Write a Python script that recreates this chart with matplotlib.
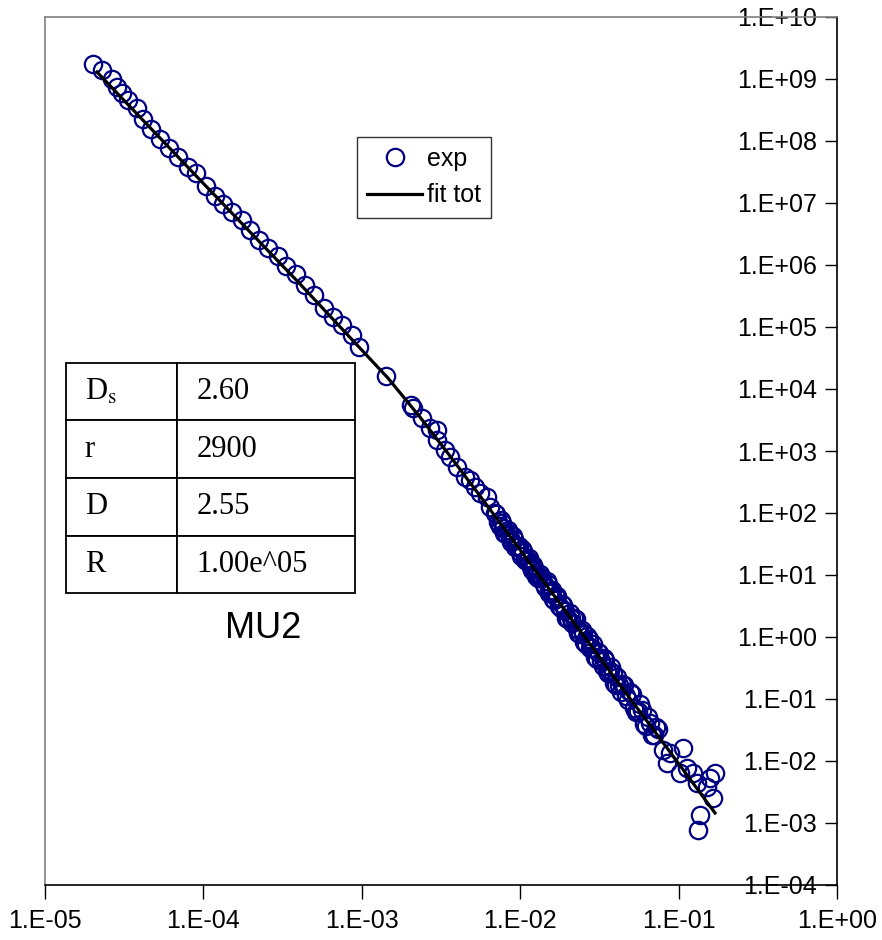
import matplotlib
matplotlib.use("Agg")
import matplotlib.pyplot as plt
import matplotlib.ticker as ticker
import numpy as np

# measured curve, log10(q) / log10(I), split by q range
lq_low = [-4.697, -4.640, -4.577, -4.545, -4.514, -4.476, -4.419, -4.381, -4.331, -4.274,
          -4.217, -4.160, -4.097, -4.047, -3.984, -3.927, -3.876, -3.819, -3.756, -3.706,
          -3.649, -3.592, -3.529, -3.479, -3.415, -3.359, -3.302, -3.239, -3.182, -3.125,
          -3.062, -3.018, -2.847]
li_low = [9.242, 9.145, 9.000, 8.871, 8.774, 8.661, 8.532, 8.355, 8.194, 8.032,
          7.887, 7.742, 7.581, 7.484, 7.274, 7.113, 6.984, 6.855, 6.726, 6.565,
          6.403, 6.274, 6.145, 5.984, 5.855, 5.677, 5.516, 5.306, 5.161, 5.032,
          4.871, 4.677, 4.210]

lq_mid = [-2.689, -2.677, -2.620, -2.569, -2.525, -2.525, -2.475, -2.443, -2.399, -2.348,
          -2.317, -2.285, -2.254, -2.210, -2.191]
li_mid = [3.742, 3.694, 3.532, 3.371, 3.339, 3.177, 3.016, 2.903, 2.742, 2.581,
          2.532, 2.419, 2.323, 2.258, 2.097]

lq_high = [-2.159, -2.140, -2.121, -2.109, -2.090, -2.071, -2.058, -2.039, -2.020, -2.001,
           -1.989, -1.970, -1.951, -1.932, -1.919, -1.900, -1.881, -1.862, -1.843, -1.824,
           -1.812, -1.793, -1.774, -1.755, -1.736, -1.717, -1.698, -1.679, -1.660, -1.641,
           -1.622, -1.604, -1.585, -1.566, -1.547, -1.528, -1.509, -1.490, -1.471, -1.452,
           -1.433, -1.414, -1.395, -1.376, -1.357, -1.332, -1.307, -1.282, -1.256, -1.231,
           -1.206, -1.181, -1.155, -1.130]
li_high = [1.997, 1.851, 1.882, 1.758, 1.661, 1.676, 1.535, 1.583, 1.469, 1.372,
           1.425, 1.247, 1.246, 1.132, 1.169, 0.991, 0.990, 0.957, 0.811, 0.859,
           0.735, 0.605, 0.652, 0.506, 0.538, 0.424, 0.294, 0.310, 0.309, 0.131,
           0.049, 0.065, -0.114, -0.034, -0.180, -0.326, -0.246, -0.392, -0.344, -0.555,
           -0.556, -0.573, -0.767, -0.768, -0.752, -0.952, -0.894, -1.143, -1.198, -1.172,
           -1.436, -1.394, -1.578, -1.488]

# second detector run over the same q range
lq_high2 = [-2.150, -2.130, -2.115, -2.100, -2.080, -2.065, -2.048, -2.030, -2.010, -1.995,
            -1.980, -1.960, -1.942, -1.925, -1.910, -1.890, -1.872, -1.852, -1.833, -1.818,
            -1.802, -1.784, -1.765, -1.745, -1.727, -1.708, -1.688, -1.670, -1.650, -1.632,
            -1.613, -1.595, -1.576, -1.557, -1.538, -1.518, -1.500, -1.480, -1.462, -1.443,
            -1.424, -1.405, -1.386, -1.366, -1.345, -1.320, -1.295, -1.270, -1.244, -1.219,
            -1.194, -1.168, -1.143]
li_high2 = [1.977, 1.798, 1.836, 1.675, 1.726, 1.594, 1.636, 1.444, 1.465, 1.303,
            1.391, 1.222, 1.280, 1.082, 1.110, 0.951, 1.019, 0.860, 0.905, 0.703,
            0.758, 0.596, 0.660, 0.471, 0.509, 0.314, 0.385, 0.223, 0.284, 0.062,
            0.117, -0.085, 0.009, -0.176, -0.112, -0.361, -0.263, -0.472, -0.364, -0.579,
            -0.485, -0.740, -0.646, -0.895, -0.767, -1.023, -0.919, -1.215, -1.085, -1.401,
            -1.287, -1.587, -1.453]

lq_tail = [-1.098, -1.054, -0.972, -1.073, -0.991, -0.947, -0.909, -0.884, -0.802, -0.770,
           -0.821, -0.783, -0.865, -0.878]
li_tail = [-1.823, -1.871, -1.790, -2.032, -2.194, -2.113, -2.194, -2.355, -2.274, -2.194,
           -2.419, -2.597, -2.871, -3.113]

# total fit
lq_fit = [-4.672, -4.021, -3.390, -2.835, -2.633, -2.443, -2.235, -1.812, -1.370, -1.054, -0.770]
li_fit = [9.113, 7.371, 5.694, 4.177, 3.548, 2.919, 2.210, 0.758, -0.774, -1.855, -2.839]

param_names = ["D", "r", "D", "R"]
param_values = ["2.60", "2900", "2.55", "1.00e^05"]

q_exp = 10 ** np.array(lq_low + lq_mid + lq_high + lq_high2 + lq_tail)
i_exp = 10 ** np.array(li_low + li_mid + li_high + li_high2 + li_tail)
q_fit = 10 ** np.array(lq_fit)
i_fit = 10 ** np.array(li_fit)

plt.rcParams['font.family'] = ['Liberation Sans', 'DejaVu Sans']
plt.rcParams['mathtext.fontset'] = 'stix'

W, H = 882, 940
fig = plt.figure(figsize=(W / 100, H / 100), dpi=100)
ax = fig.add_axes([45 / W, 1 - 885 / H, 792 / W, 868 / H])

ax.plot(q_exp, i_exp, 'o', ms=12.5, mfc='none', mec='#000080', mew=1.6, label='exp', zorder=3)
ax.plot(q_fit, i_fit, '-', color='black', lw=2.3, label='fit tot', zorder=4)

ax.set_xscale('log')
ax.set_yscale('log')
ax.set_xlim(1e-5, 1)
ax.set_ylim(1e-4, 1e10)

fmt = ticker.FuncFormatter(lambda v, p: "1.E{:+03d}".format(int(round(np.log10(v)))))
ax.xaxis.set_major_locator(ticker.FixedLocator(10.0 ** np.arange(-5, 1)))
ax.yaxis.set_major_locator(ticker.FixedLocator(10.0 ** np.arange(-4, 11)))
ax.xaxis.set_minor_locator(ticker.NullLocator())
ax.yaxis.set_minor_locator(ticker.NullLocator())
ax.xaxis.set_major_formatter(fmt)
ax.yaxis.set_major_formatter(fmt)

# y axis sits on the right, labels drawn on its inner side
ax.yaxis.set_ticks_position('right')
ax.tick_params(axis='y', direction='in', length=9, width=1, pad=-14.5,
               labelsize=18, labelright=True, labelleft=False)
ax.tick_params(axis='x', direction='out', length=10, width=1, pad=7, labelsize=18)
for lab in ax.get_yticklabels():
    lab.set_horizontalalignment('right')

for side in ['left', 'top']:
    ax.spines[side].set_color('#808080')
    ax.spines[side].set_linewidth(1.2)
for side in ['right', 'bottom']:
    ax.spines[side].set_color('black')
    ax.spines[side].set_linewidth(1.2)

leg = ax.legend(loc='upper left', bbox_to_anchor=(357 / W, 1 - 137 / H),
                bbox_transform=fig.transFigure, fontsize=18, frameon=True,
                fancybox=False, edgecolor='black', borderpad=0.4, labelspacing=0.5,
                handlelength=2.2, handletextpad=0.2, borderaxespad=0)
leg.get_frame().set_linewidth(1.0)

# parameter table
cells = [[n, v] for n, v in zip(param_names, param_values)]
cells[0][0] = r"D$_{\mathrm{s}}$"
tab = ax.table(cellText=cells, cellLoc='left', colWidths=[0.384, 0.616],
               bbox=[21 / 792, 292 / 868, 289 / 792, 230 / 868])
tab.auto_set_font_size(False)
tab.set_fontsize(22)
for (r, c), cell in tab.get_celld().items():
    cell.set_linewidth(1.3)
    cell.get_text().set_fontfamily('Liberation Serif')
    if c == 0:
        cell.PAD = 0.17
    else:
        cell.PAD = 0.11

fig.text(263 / W, 1 - 628 / H, "MU2", fontsize=26, ha='center', va='center')

fig.savefig("out.png", dpi=100)
